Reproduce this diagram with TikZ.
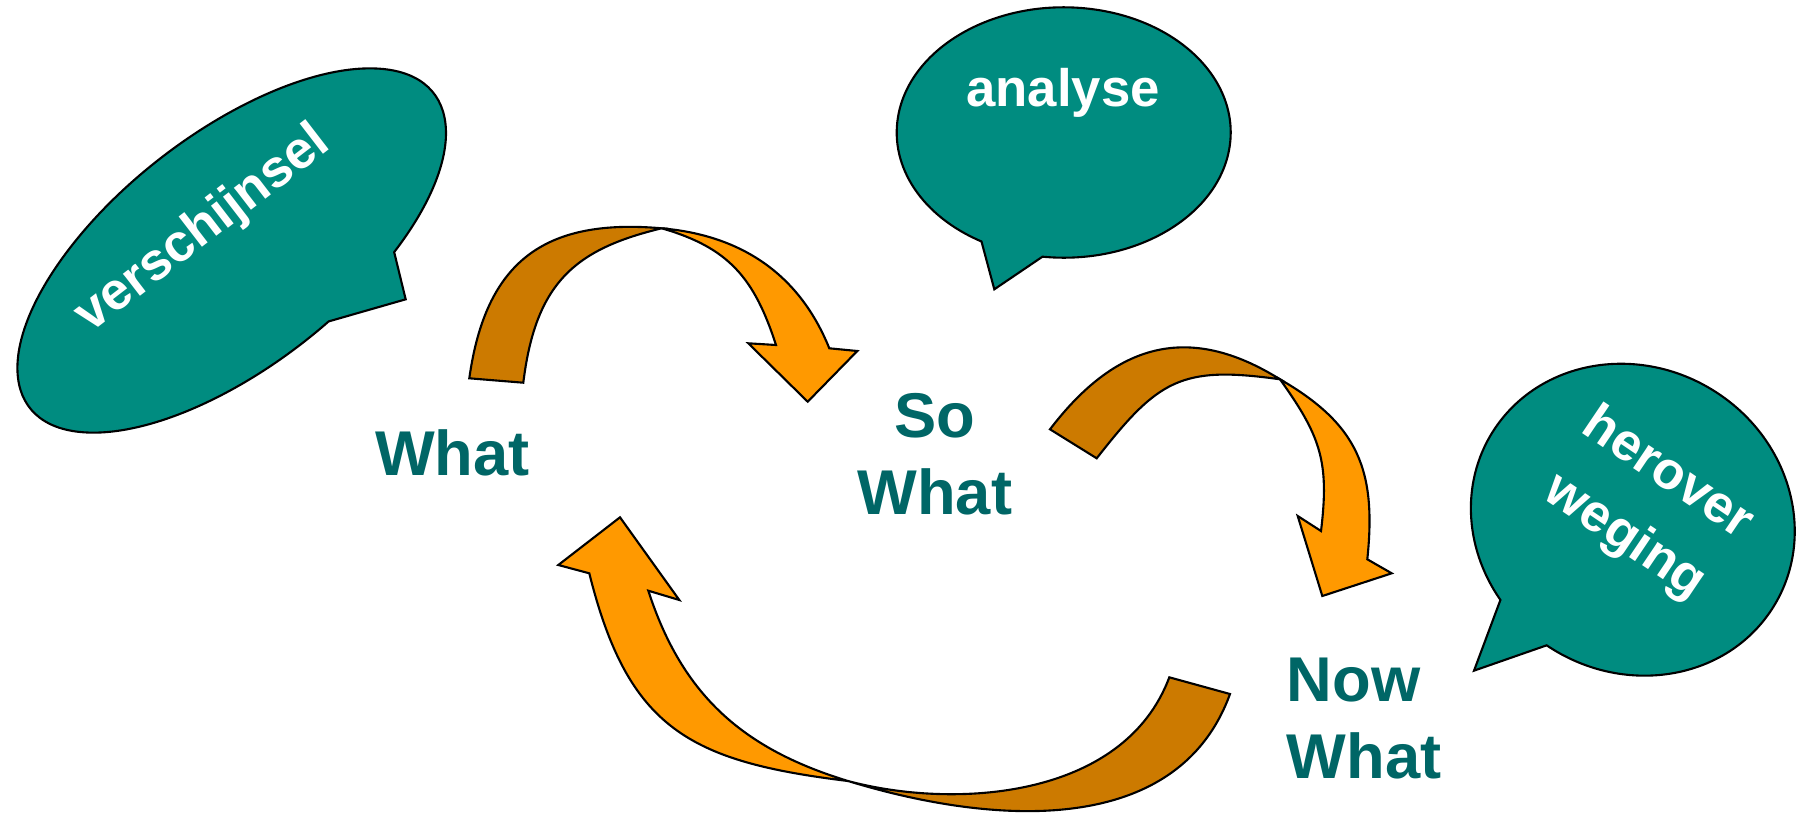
\documentclass[tikz,border=0pt]{standalone}
\usepackage{fontspec}
\setmainfont{Liberation Sans}
\usepackage{tikz}
\definecolor{bubblegreen}{RGB}{0,140,128}
\definecolor{labelgreen}{RGB}{0,102,102}
\definecolor{arrowfront}{RGB}{255,153,0}
\definecolor{arrowback}{RGB}{204,122,0}

\begin{document}
\begin{tikzpicture}[x=0.1mm,y=0.1mm,
	bubble/.style={fill=bubblegreen,draw=black,line width=0.6pt},
	front/.style={fill=arrowfront,draw=black,line width=0.6pt},
	back/.style={fill=arrowback,draw=black,line width=0.6pt},
	bubbletext/.style={text=white,inner sep=0pt,font=\fontsize{15}{21.6}\selectfont\bfseries},
	steplabel/.style={text=labelgreen,inner sep=0pt,font=\fontsize{18}{21.9}\selectfont\bfseries}]
\useasboundingbox (0,0) rectangle (1811,815);

% callouts
\draw [bubble,shift={(231.7,564.5)},rotate=37.9] (-60.2:256 and 116.5) arc [start angle=-60.2,end angle=277.4,x radius=256,y radius=116.5] -- (107.3,-145.4) -- cycle;
\draw [bubble,shift={(1063.7,682.5)}] (262.7:167 and 125.2) arc [start angle=262.7,end angle=600.5,x radius=167,y radius=125.2] -- (-69.4,-156.8) -- cycle;
\draw [bubble,shift={(1632.8,295.3)},rotate=-31.4] (267.2:165.4 and 152.3) arc [start angle=267.2,end angle=604.5,x radius=165.4,y radius=152.3] -- (-56.9,-211.6) -- cycle;

\node [bubbletext,rotate=37.6,anchor=base] (verschijnsel) at (211.5,574.1) {verschijnsel};
\node [bubbletext,anchor=base] (analyse) at (1063,708.3) {analyse};
\node [bubbletext,rotate=-34,align=center] (heroverweging) at (1646,309) {herover\\weging};

\node [steplabel,anchor=base] (what) at (452.5,340) {What};
\node [steplabel,align=center] (sowhat) at (934.8,360.5) {So\\What};
\node [steplabel,align=left,anchor=west] (nowwhat) at (1286,96) {Now\\What};

% What -> So What
\draw [back] (469.3,436.7) .. controls (485.7,553.5) and (544.2,597) .. (661.7,586.7)
	.. controls (574.2,565.7) and (535.5,531.6) .. (523.3,432.3) -- cycle;
\draw [front] (661.7,586.7) .. controls (741.4,579.7) and (799.3,540.9) .. (829.3,466.7)
	-- (857.3,464) -- (807.7,413.3) -- (748.3,471.7) -- (776,470)
	.. controls (754.4,536.6) and (729,567.4) .. (661.7,586.7) -- cycle;

% So What -> Now What
\draw [back] (1050,385.7) .. controls (1115.6,471.6) and (1188.4,492.9) .. (1280,435.7)
	.. controls (1181,449.6) and (1158.3,435.5) .. (1096.7,356.7) -- cycle;
\draw [front] (1280,435.7) .. controls (1357.9,390.7) and (1376.7,345.2) .. (1367.3,255.7)
	-- (1391.7,241.7) -- (1322.3,219) -- (1297.7,299) -- (1321,284)
	.. controls (1329.5,353.5) and (1320.7,378.7) .. (1280,435.7) -- cycle;

% Now What -> What
\draw [back] (848,34) .. controls (994.3,-10.7) and (1177.7,-22.8) .. (1230,121)
	-- (1169.3,137.7) .. controls (1123.8,15.9) and (954.3,5.5) .. (848,34) -- cycle;
\draw [front] (848,34) .. controls (689.2,53.5) and (628,86.5) .. (589.3,241.7)
	-- (558.3,250) -- (620,297.7) -- (679.3,215) -- (648.3,224.3)
	.. controls (682.3,119.7) and (742.8,66.1) .. (848,34) -- cycle;
\end{tikzpicture}
\end{document}
